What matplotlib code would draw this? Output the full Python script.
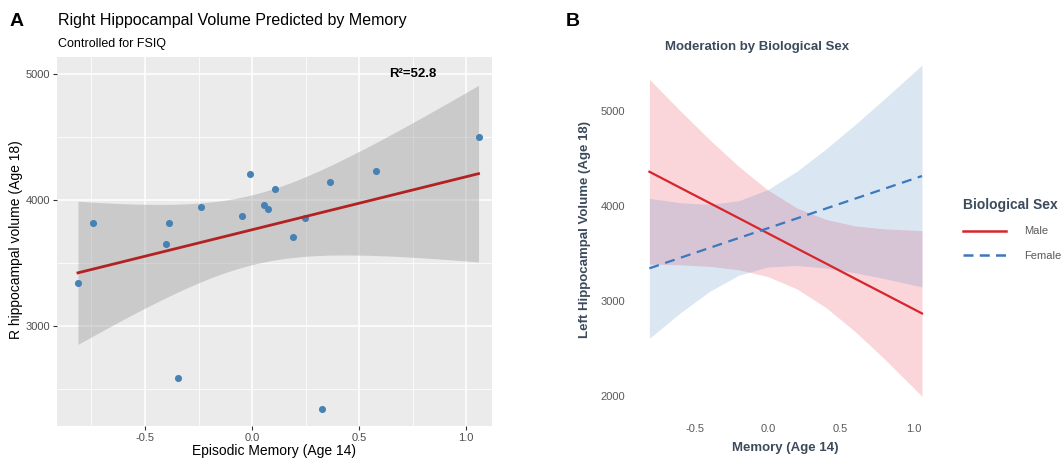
import numpy as np
import matplotlib
matplotlib.use("Agg")
import matplotlib.pyplot as plt
from matplotlib.lines import Line2D

plt.rcParams['font.family'] = ['Liberation Sans', 'DejaVu Sans']

# ---- panel A data: episodic memory (age 14) vs R hippocampal volume (age 18)
memory_a = [-0.813, -0.745, -0.402, -0.390, -0.346, -0.240, -0.045, -0.008, 0.054,
            0.075, 0.107, 0.193, 0.246, 0.363, 0.581, 1.058, 0.328]
volume_a = [3341, 3817, 3651, 3821, 2590, 3950, 3876, 4210, 3960,
            3932, 4087, 3712, 3857, 4146, 4233, 4506, 2344]
r2_label = "R²=52.8"

# ---- panel B data: predicted left hippocampal volume by sex
memory_b = [-0.813, -0.6, -0.4, -0.2, 0.0, 0.2, 0.4, 0.6, 0.8, 1.058]
male_fit = [4358, 4188, 4029, 3870, 3710, 3550, 3391, 3231, 3072, 2866]
male_hi = [5331, 4998, 4696, 4414, 4166, 3976, 3855, 3788, 3756, 3738]
male_lo = [3385, 3378, 3362, 3326, 3254, 3124, 2927, 2674, 2388, 1994]
female_fit = [3341, 3452, 3556, 3660, 3763, 3867, 3971, 4075, 4179, 4313]
female_hi = [4078, 4031, 4014, 4052, 4170, 4363, 4599, 4856, 5125, 5481]
female_lo = [2604, 2873, 3098, 3268, 3356, 3371, 3343, 3294, 3233, 3145]

W, H = 1063, 459
fig = plt.figure(figsize=(W / 100, H / 100), dpi=100)

# ================= panel A (ggplot grey theme) =================
axA = fig.add_axes([57 / W, 33 / H, 435 / W, 369 / H])
axA.set_facecolor('#EBEBEB')
for s in axA.spines.values():
    s.set_visible(False)
axA.set_xlim(-0.911, 1.121)
axA.set_ylim(2209, 5137)
axA.set_xticks([-0.5, 0.0, 0.5, 1.0])
axA.set_xticklabels(['-0.5', '0.0', '0.5', '1.0'])
axA.set_yticks([3000, 4000, 5000])
axA.set_xticks([-0.75, -0.25, 0.25, 0.75], minor=True)
axA.set_yticks([2500, 3500, 4500], minor=True)
axA.grid(which='major', color='white', lw=1.1)
axA.grid(which='minor', color='white', lw=0.55)
axA.set_axisbelow(True)
axA.tick_params(which='major', length=3, width=0.8, color='#333333',
                labelcolor='#4D4D4D', labelsize=8, pad=2)
axA.tick_params(which='minor', length=0)

# linear fit with 95% confidence band (as geom_smooth(method='lm'))
x = np.array(memory_a)
y = np.array(volume_a)
slope, intercept = np.polyfit(x, y, 1)
n = len(x)
resid = y - (slope * x + intercept)
s_err = np.sqrt(np.sum(resid ** 2) / (n - 2))
t_crit = 2.131  # t(0.975, df=15)
xs = np.linspace(x.min(), x.max(), 80)
fit = slope * xs + intercept
half = t_crit * s_err * np.sqrt(1 / n + (xs - x.mean()) ** 2 / np.sum((x - x.mean()) ** 2))
axA.fill_between(xs, fit - half, fit + half, color='#999999', alpha=0.4, lw=0, zorder=2)
axA.scatter(x, y, s=26, color='#4682B4', zorder=3, linewidths=0)
axA.plot(xs, fit, color='#B22222', lw=2.0, zorder=4)
axA.text(0.752, 5000, r2_label, ha='center', va='center', fontsize=9.5,
         fontweight='bold', color='black')

fig.text(58 / W, 1 - 21 / H, 'Right Hippocampal Volume Predicted by Memory',
         fontsize=11.5, ha='left', va='center', color='black')
fig.text(58 / W, 1 - 44 / H, 'Controlled for FSIQ', fontsize=9,
         ha='left', va='center', color='black')
fig.text(274 / W, 1 - 451 / H, 'Episodic Memory (Age 14)', fontsize=10,
         ha='center', va='center')
fig.text(16 / W, 1 - 240 / H, 'R hippocampal volume (Age 18)', fontsize=10,
         ha='center', va='center', rotation=90)
fig.text(17 / W, 1 - 22 / H, 'A', fontsize=14, fontweight='bold',
         ha='center', va='center')

# ================= panel B =================
dark = '#3B4A5C'
red = '#D7262B'
blue = '#3A78C0'
axB = fig.add_axes([636.7 / W, 44.3 / H, 298.7 / W, 356.2 / H])
for s in axB.spines.values():
    s.set_visible(False)
axB.set_xlim(-0.9, 1.15)
axB.set_ylim(1800, 5550)
axB.set_xticks([-0.5, 0.0, 0.5, 1.0])
axB.set_xticklabels(['-0.5', '0.0', '0.5', '1.0'])
axB.set_yticks([2000, 3000, 4000, 5000])
axB.tick_params(length=0, labelsize=8, labelcolor='#5A5A5A')
axB.tick_params(axis='y', pad=8.5)
axB.tick_params(axis='x', pad=6.5)

axB.fill_between(memory_b, male_lo, male_hi, color='#E8304A', alpha=0.2, lw=0)
axB.fill_between(memory_b, female_lo, female_hi, color=blue, alpha=0.18, lw=0)
axB.plot(memory_b, male_fit, color=red, lw=1.6)
axB.plot(memory_b, female_fit, color=blue, lw=1.6, ls=(0, (4.5, 3)))

fig.text(757 / W, 1 - 47 / H, 'Moderation by Biological Sex', fontsize=9.5,
         fontweight='bold', color=dark, ha='center', va='center')
fig.text(785 / W, 1 - 448 / H, 'Memory (Age 14)', fontsize=9.5,
         fontweight='bold', color=dark, ha='center', va='center')
fig.text(585 / W, 1 - 230 / H, 'Left Hippocampal Volume (Age 18)', fontsize=9.5,
         fontweight='bold', color=dark, ha='center', va='center', rotation=90)
fig.text(573 / W, 1 - 22 / H, 'B', fontsize=14, fontweight='bold',
         ha='center', va='center')

handles = [Line2D([], [], color=red, lw=1.8),
           Line2D([], [], color=blue, lw=1.8, ls=(0, (4, 2.5)))]
leg = fig.legend(handles, ['Male', 'Female'], title='Biological Sex',
                 loc='upper left', bbox_to_anchor=(963 / W, 1 - 198 / H),
                 frameon=False, fontsize=8, title_fontsize=10,
                 handlelength=3.9, handletextpad=1.6, labelspacing=1.3,
                 borderpad=0, borderaxespad=0, alignment='left')
leg.get_title().set_fontweight('bold')
leg.get_title().set_color(dark)
for t in leg.get_texts():
    t.set_color('#5A5A5A')

fig.savefig('out.png', dpi=100)
